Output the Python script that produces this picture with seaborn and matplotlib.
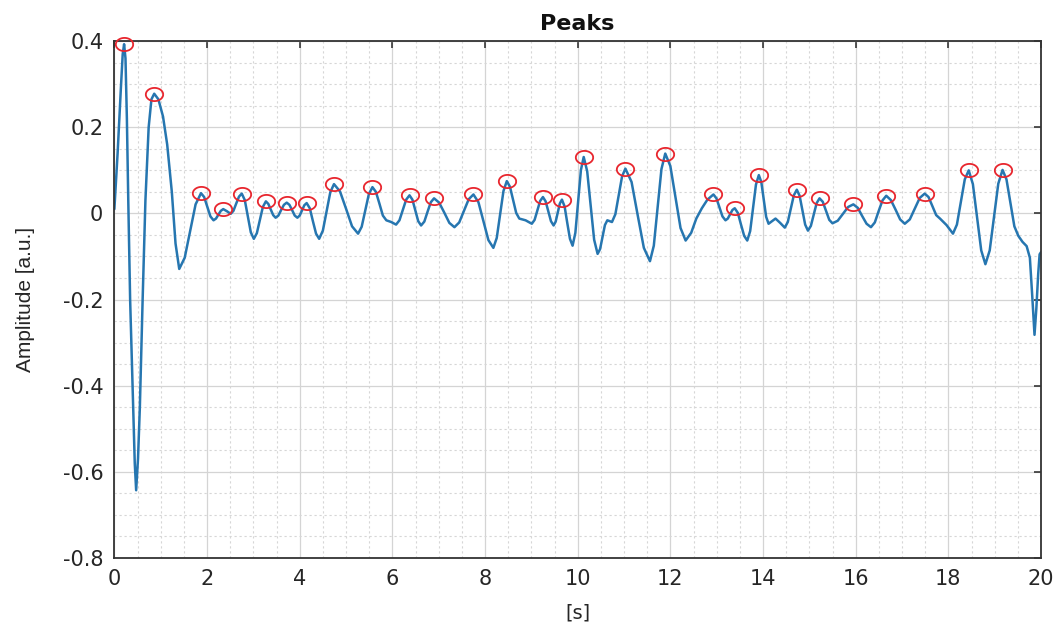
import numpy as np
import pandas as pd
import matplotlib
matplotlib.use("Agg")
import matplotlib.pyplot as plt
from matplotlib.path import Path
from matplotlib.ticker import MultipleLocator, FixedLocator
import seaborn as sns

# ---- data (time [s], amplitude [a.u.]) ----
time_s = [
    0.00, 0.07, 0.14, 0.18, 0.21, 0.24, 0.27, 0.30, 0.34, 0.40, 0.44, 0.47, 0.51, 0.55, 0.61, 0.67,
    0.74, 0.80, 0.86, 0.95, 1.05, 1.14, 1.24, 1.32, 1.40, 1.518, 1.635, 1.753, 1.87, 1.938, 2.005,
    2.073, 2.14, 2.193, 2.245, 2.298, 2.35, 2.43, 2.51, 2.57, 2.63, 2.69, 2.75, 2.815, 2.88, 2.945,
    3.01, 3.075, 3.14, 3.205, 3.27, 3.323, 3.375, 3.428, 3.48, 3.54, 3.60, 3.66, 3.72, 3.778, 3.835,
    3.893, 3.95, 4.00, 4.05, 4.10, 4.15, 4.218, 4.285, 4.353, 4.42, 4.50, 4.58, 4.66, 4.74, 4.87,
    5.00, 5.13, 5.26, 5.338, 5.415, 5.493, 5.57, 5.645, 5.72, 5.795, 5.87, 5.975, 6.08, 6.153, 6.225,
    6.298, 6.37, 6.433, 6.495, 6.558, 6.62, 6.69, 6.76, 6.83, 6.90, 7.01, 7.12, 7.23, 7.34, 7.443,
    7.545, 7.648, 7.75, 7.858, 7.965, 8.073, 8.18, 8.253, 8.325, 8.398, 8.47, 8.538, 8.605, 8.673,
    8.74, 8.875, 9.01, 9.07, 9.13, 9.19, 9.25, 9.308, 9.365, 9.423, 9.48, 9.525, 9.57, 9.615, 9.66,
    9.718, 9.775, 9.833, 9.89, 9.95, 10.01, 10.07, 10.13, 10.205, 10.28, 10.355, 10.43, 10.483,
    10.535, 10.588, 10.64, 10.74, 10.813, 10.885, 10.958, 11.03, 11.163, 11.295, 11.428, 11.56,
    11.643, 11.725, 11.808, 11.89, 12.00, 12.11, 12.22, 12.33, 12.45, 12.56, 12.68, 12.80, 12.93,
    12.995, 13.06, 13.125, 13.19, 13.24, 13.29, 13.34, 13.39, 13.458, 13.525, 13.593, 13.66, 13.723,
    13.785, 13.848, 13.91, 13.963, 14.015, 14.068, 14.12, 14.195, 14.27, 14.37, 14.47, 14.535, 14.60,
    14.665, 14.73, 14.79, 14.85, 14.91, 14.97, 15.033, 15.095, 15.158, 15.22, 15.29, 15.36, 15.43,
    15.50, 15.613, 15.725, 15.838, 15.95, 16.045, 16.14, 16.235, 16.33, 16.413, 16.495, 16.578,
    16.66, 16.76, 16.86, 16.96, 17.06, 17.168, 17.275, 17.383, 17.49, 17.573, 17.655, 17.738, 17.82,
    17.96, 18.10, 18.185, 18.27, 18.355, 18.44, 18.53, 18.62, 18.71, 18.80, 18.893, 18.985, 19.078,
    19.17, 19.255, 19.34, 19.425, 19.51, 19.60, 19.69, 19.76, 19.81, 19.86, 19.90, 19.94, 19.97, 20.00,
]
amplitude = [
    0.010, 0.140, 0.290, 0.370, 0.393, 0.360, 0.220, 0.030, -0.200, -0.430, -0.580, -0.643, -0.570,
    -0.450, -0.200, 0.030, 0.200, 0.265, 0.278, 0.265, 0.225, 0.160, 0.050, -0.070, -0.129, -0.103,
    -0.041, 0.021, 0.047, 0.038, 0.016, -0.007, -0.016, -0.012, -0.003, 0.006, 0.010, 0.005, -0.001,
    0.006, 0.023, 0.039, 0.046, 0.031, -0.007, -0.044, -0.059, -0.046, -0.016, 0.015, 0.028, 0.022,
    0.009, -0.004, -0.010, -0.005, 0.008, 0.020, 0.025, 0.020, 0.008, -0.005, -0.010, -0.005, 0.007,
    0.019, 0.024, 0.012, -0.018, -0.047, -0.059, -0.040, 0.005, 0.049, 0.068, 0.051, 0.011, -0.030,
    -0.047, -0.031, 0.007, 0.045, 0.061, 0.050, 0.023, -0.005, -0.016, -0.020, -0.026, -0.016, 0.008,
    0.032, 0.042, 0.032, 0.007, -0.018, -0.028, -0.019, 0.004, 0.026, 0.035, 0.025, 0.002, -0.022,
    -0.032, -0.021, 0.006, 0.033, 0.044, 0.026, -0.018, -0.062, -0.080, -0.057, -0.003, 0.052, 0.075,
    0.062, 0.032, 0.001, -0.012, -0.016, -0.024, -0.015, 0.007, 0.029, 0.038, 0.028, 0.005, -0.018,
    -0.028, -0.019, 0.002, 0.023, 0.032, 0.016, -0.022, -0.059, -0.075, -0.045, 0.028, 0.101, 0.131,
    0.098, 0.019, -0.061, -0.094, -0.083, -0.055, -0.027, -0.016, -0.020, -0.002, 0.042, 0.086, 0.104,
    0.073, -0.004, -0.080, -0.111, -0.075, 0.014, 0.103, 0.139, 0.110, 0.038, -0.034, -0.063, -0.045,
    -0.012, 0.012, 0.032, 0.044, 0.035, 0.014, -0.007, -0.016, -0.012, -0.002, 0.008, 0.012, 0.001,
    -0.026, -0.052, -0.063, -0.041, 0.013, 0.067, 0.089, 0.073, 0.033, -0.008, -0.024, -0.018, -0.012,
    -0.022, -0.033, -0.020, 0.011, 0.042, 0.055, 0.041, 0.008, -0.026, -0.040, -0.029, -0.003, 0.024,
    0.035, 0.027, 0.006, -0.015, -0.023, -0.017, -0.001, 0.015, 0.021, 0.013, -0.006, -0.024, -0.032,
    -0.021, 0.005, 0.030, 0.041, 0.031, 0.009, -0.014, -0.024, -0.014, 0.011, 0.036, 0.046, 0.038,
    0.017, -0.004, -0.012, -0.027, -0.047, -0.026, 0.027, 0.079, 0.100, 0.068, -0.009, -0.086, -0.118,
    -0.086, -0.009, 0.069, 0.101, 0.079, 0.025, -0.030, -0.052, -0.066, -0.076, -0.103, -0.190,
    -0.282, -0.220, -0.140, -0.095, -0.090,
]
x_ticks = [0, 2, 4, 6, 8, 10, 12, 14, 16, 18, 20]
y_ticks = [-0.8, -0.6, -0.4, -0.2, 0, 0.2, 0.4]
y_tick_labels = ["-0.8", "-0.6", "-0.4", "-0.2", "0", "0.2", "0.4"]
title_text = "Peaks"
x_label = "[s]"
y_label = "Amplitude [a.u.]"

df = pd.DataFrame({"t": time_s, "a": amplitude})
# peaks like findpeaks: positive local maxima of the series
a = df["a"].to_numpy()
is_peak = np.zeros(len(a), dtype=bool)
is_peak[1:-1] = (a[1:-1] > a[:-2]) & (a[1:-1] > a[2:]) & (a[1:-1] > 0)
peaks = df[is_peak]

sns.set_style("white")
plt.rcParams["font.family"] = ["DejaVu Sans"]

fig = plt.figure(figsize=(10.59, 6.24), dpi=100)
ax = fig.add_axes([0.108, 0.106, 0.875, 0.828])

line_color = "#2676b0"
sns.lineplot(data=df, x="t", y="a", ax=ax, color=line_color, linewidth=1.8,
             sort=False, estimator=None, solid_joinstyle="round", solid_capstyle="round")

# elliptical open marker (reference circles appear slightly wide)
theta = np.linspace(0, 2 * np.pi, 60)
ell = Path(np.column_stack([np.cos(theta), 0.76 * np.sin(theta)]))
ax.plot(peaks["t"], peaks["a"], linestyle="none", marker=ell, markersize=12.5,
        markerfacecolor="none", markeredgecolor="#e8262e", markeredgewidth=1.3,
        clip_on=False, zorder=5)

ax.set_xlim(0, 20)
ax.set_ylim(-0.8, 0.4)
ax.xaxis.set_major_locator(FixedLocator(x_ticks))
ax.yaxis.set_major_locator(FixedLocator(y_ticks))
ax.set_yticklabels(y_tick_labels)
ax.xaxis.set_minor_locator(MultipleLocator(0.5))
ax.yaxis.set_minor_locator(MultipleLocator(0.05))

ax.grid(True, which="major", color="#d4d4d4", linewidth=0.9, linestyle="-")
ax.grid(True, which="minor", color="#d6d6d6", linewidth=0.8, linestyle=(0, (2, 2.5)))
ax.set_axisbelow(True)

txt_color = "#262626"
ax.tick_params(which="major", direction="in", length=5, width=1.1, color=txt_color,
               top=True, right=True, labelsize=15, labelcolor=txt_color, pad=8)
ax.tick_params(which="minor", length=0)
for s in ax.spines.values():
    s.set_color("#333333")
    s.set_linewidth(1.3)

ax.set_title(title_text, fontsize=16, fontweight="bold", color="#111111", pad=8)
ax.set_xlabel(x_label, fontsize=14, color=txt_color)
ax.set_ylabel(y_label, fontsize=15, color=txt_color, family=["Liberation Sans", "DejaVu Sans"])
ax.yaxis.set_label_coords(-0.0855, 0.5)
ax.xaxis.set_label_coords(0.5, -0.089)

fig.savefig("out.png", dpi=100)
